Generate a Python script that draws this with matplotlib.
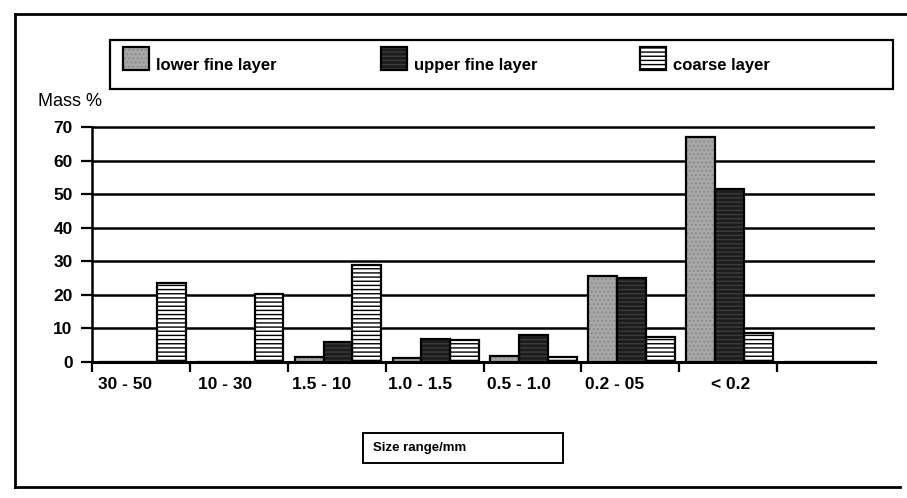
import matplotlib.pyplot as plt
from matplotlib.patches import Rectangle
from matplotlib.lines import Line2D
import numpy as np

plt.rcParams['font.family'] = ['Liberation Sans', 'DejaVu Sans']
plt.rcParams['hatch.linewidth'] = 1.0

# data
categories = ['30 - 50', '10 - 30', '1.5 - 10', '1.0 - 1.5', '0.5 - 1.0', '0.2 - 05', '< 0.2', '']
lower_fine = [0, 0, 1.5, 1.2, 1.8, 25.5, 67, 0]
upper_fine = [0, 0, 6, 7, 8, 25, 51.5, 0]
coarse = [23.5, 20.4, 29, 6.5, 1.5, 7.5, 8.5, 0]
series_names = ['lower fine layer', 'upper fine layer', 'coarse layer']
y_ticks = [0, 10, 20, 30, 40, 50, 60, 70]

# styles: (facecolor, hatch, hatch colour)
styles = [('#a8a8a8', '....', '#8c8c8c'),
          ('#1c1c1c', '----', '#3c3c3c'),
          ('white', '----', 'black')]

fig = plt.figure(figsize=(9.07, 4.98), dpi=100)
W, H = 907, 498

def fx(px):
    return px / W

def fy(py):
    return 1 - py / H

ax = fig.add_axes([fx(92), fy(362), fx(875) - fx(92), fy(126) - fy(362)])

n = len(categories)
x = np.arange(n)
bw = 0.295
offsets = [0.218, 0.513, 0.808]

for vals, off, (fc, hatch, hc) in zip([lower_fine, upper_fine, coarse], offsets, styles):
    ax.bar(x + off, vals, width=bw, color=fc, hatch=hatch, edgecolor=hc, linewidth=0, zorder=3)
    ax.bar(x + off, vals, width=bw, fill=False, edgecolor='black', linewidth=1.6, zorder=4)

ax.set_xlim(0, n)
ax.set_ylim(0, 70.3)
ax.set_yticks(y_ticks)
ax.set_yticklabels([str(v) for v in y_ticks], fontsize=12.5, fontweight='bold')
ax.yaxis.grid(True, color='black', linewidth=1.8)
ax.set_axisbelow(True)

# boundary ticks between categories (none at the far right end)
ax.set_xticks(np.arange(n))
ax.set_xticklabels([])
ax.tick_params(axis='x', length=7, width=1.6, direction='out')
ax.tick_params(axis='y', length=8, width=1.6, direction='out', pad=6)

# category labels sit a bit left of centre, as in the original
label_pos = [0.34, 0.36, 0.35, 0.35, 0.36, 0.34, 0.52, 0.5]
for i, lab in enumerate(categories):
    ax.text(i + label_pos[i], -4.5, lab, ha='center', va='top',
            fontsize=12.5, fontweight='bold', transform=ax.transData)

for s in ['top', 'right']:
    ax.spines[s].set_visible(False)
ax.spines['left'].set_linewidth(1.8)
ax.spines['left'].set_bounds(0, 70)
ax.spines['bottom'].set_linewidth(2.2)

fig.text(fx(38), fy(102), 'Mass %', fontsize=13, ha='left', va='center')

# legend box drawn by hand
fig.patches.append(Rectangle((fx(110), fy(89)), fx(893) - fx(110), fy(40) - fy(89),
                             transform=fig.transFigure, fill=False,
                             edgecolor='black', linewidth=1.6))
leg_x = [123, 381, 640]
for (fc, hatch, hc), name, lx in zip(styles, series_names, leg_x):
    fig.patches.append(Rectangle((fx(lx), fy(70)), fx(26), fy(47) - fy(70),
                                 transform=fig.transFigure, facecolor=fc, hatch=hatch,
                                 edgecolor=hc, linewidth=0))
    fig.patches.append(Rectangle((fx(lx), fy(70)), fx(26), fy(47) - fy(70),
                                 transform=fig.transFigure, fill=False,
                                 edgecolor='black', linewidth=1.6))
    fig.text(fx(lx + 33), fy(65), name, fontsize=12, fontweight='bold',
             ha='left', va='center')

# x axis title in its own box
fig.patches.append(Rectangle((fx(363), fy(463)), fx(200), fy(433) - fy(463),
                             transform=fig.transFigure, fill=False,
                             edgecolor='black', linewidth=1.4))
fig.text(fx(373), fy(448), 'Size range/mm', fontsize=9.5, fontweight='bold',
         ha='left', va='center')

# outer frame (left, top, bottom)
fig.lines.append(Line2D([fx(15), fx(15)], [fy(14), fy(487)], transform=fig.transFigure,
                        color='black', linewidth=2))
fig.lines.append(Line2D([fx(15), fx(907)], [fy(14), fy(14)], transform=fig.transFigure,
                        color='black', linewidth=2))
fig.lines.append(Line2D([fx(15), fx(900)], [fy(487), fy(487)], transform=fig.transFigure,
                        color='black', linewidth=2))

fig.savefig('out.png', dpi=100)
